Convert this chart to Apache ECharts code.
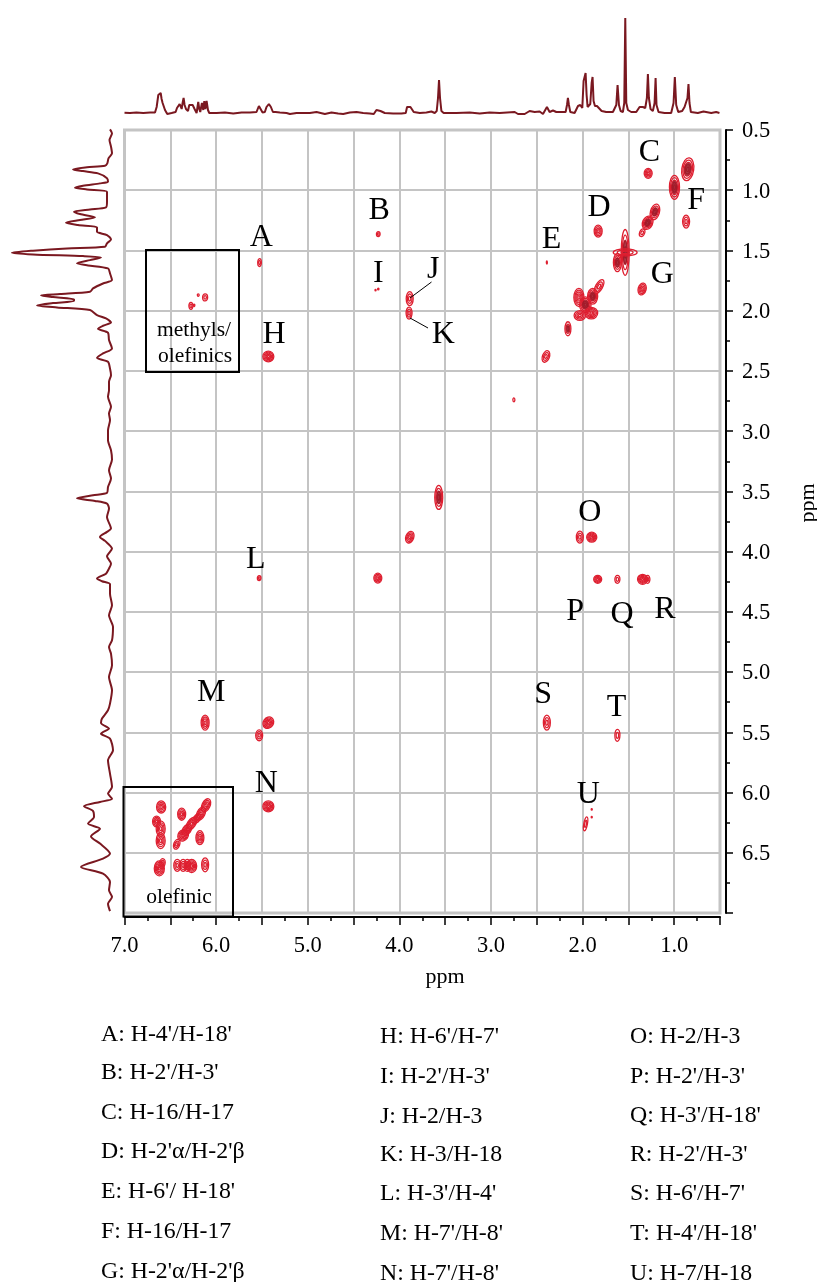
<!DOCTYPE html>
<html>
<head>
<meta charset="utf-8">
<style>html,body{margin:0;padding:0;background:#fff}#c{width:817px;height:1282px}</style>
<script src="https://cdn.jsdelivr.net/npm/echarts@6/dist/echarts.min.js"></script>
</head>
<body>
<div id="c"></div>
<script>
// 1H projection along F2 (top): chemical shift, intensity
const topPpm = [7.0,6.94,6.87,6.795,6.72,6.667,6.649,6.631,6.62,6.605,6.595,6.584,6.569,6.558,6.533,6.486,6.442,6.427,6.413,6.398,6.387,6.376,6.366,6.355,6.344,6.329,6.307,6.293,6.275,6.256,6.235,6.213,6.195,6.184,6.173,6.155,6.14,6.129,6.118,6.104,6.089,6.075,5.995,5.904,5.813,5.722,5.631,5.559,5.533,5.515,5.493,5.468,5.45,5.424,5.402,5.38,5.351,5.304,5.231,5.195,5.122,5.05,4.977,4.904,4.813,4.741,4.668,4.613,4.541,4.468,4.395,4.323,4.279,4.25,4.232,4.206,4.159,4.068,3.977,3.93,3.916,3.897,3.879,3.865,3.843,3.777,3.705,3.65,3.614,3.592,3.578,3.567,3.556,3.541,3.516,3.377,3.232,3.123,3.014,2.905,2.741,2.705,2.632,2.578,2.523,2.469,2.432,2.389,2.36,2.323,2.287,2.232,2.185,2.17,2.16,2.149,2.134,2.087,2.05,2.025,2.003,1.989,1.978,1.967,1.956,1.945,1.93,1.916,1.901,1.891,1.88,1.865,1.843,1.822,1.792,1.742,1.669,1.632,1.618,1.603,1.585,1.56,1.545,1.534,1.523,1.505,1.469,1.414,1.378,1.342,1.316,1.298,1.287,1.276,1.258,1.233,1.214,1.203,1.193,1.171,1.105,1.033,1.007,0.993,0.978,0.956,0.913,0.887,0.869,0.855,0.844,0.833,0.818,0.742,0.68,0.596,0.542,0.506];
const topIntensity = [0.3,0,0.5,0,0.5,0.5,6,18,16,20,14,10,9,3,-1,0,1,5,4,9,11,4,10,15,8,4,2,8,7,8,4,0,11,4,1,10,3,12,4,12,3,0,0,0.5,-0.5,0.5,0.5,1,7,5,0.5,1,6,9,6,1,1,0.5,0,-1,0,0,0,1,-1,0.5,-0.5,-1,0.5,1,0,-0.5,-1,3,5,2,0,-0.5,-0.5,0,6,7,6,7,1,0,0.5,1.5,0,2,15,33,15,2,0,0,0.5,-0.5,0.5,0,1,-1,-1,2,1,1.5,-1,6,1,2.5,1,1,1,8,15,8,1,0,7,8,5,32,36,40,18,6,6,9,30,36,12,7,7,7,2,1,1,8,28,8,2,1,10,95,10,3,1,1,6,6,5,15,39,15,4,2,10,35,8,1,0,0,10,36,8,1,2,6,8,15,29,10,1,0,1.5,0,1,0];

// 1H projection along F1 (left): chemical shift, intensity
const leftPpm = [0.495,0.528,0.583,0.638,0.694,0.735,0.777,0.796,0.81,0.827,0.841,0.86,0.9,0.929,0.943,0.962,0.979,0.993,1.012,1.054,1.095,1.142,1.159,1.178,1.198,1.225,1.248,1.27,1.289,1.308,1.345,1.372,1.408,1.441,1.469,1.483,1.502,1.519,1.533,1.547,1.558,1.58,1.607,1.624,1.649,1.69,1.746,1.774,1.815,1.843,1.862,1.873,1.887,1.906,1.92,1.937,1.956,1.973,1.995,2.037,2.064,2.098,2.125,2.15,2.183,2.244,2.313,2.355,2.391,2.424,2.48,2.535,2.59,2.66,2.715,2.798,2.853,2.909,2.992,3.075,3.158,3.236,3.324,3.393,3.463,3.513,3.532,3.557,3.579,3.601,3.643,3.712,3.809,3.836,3.878,3.911,3.975,4.039,4.1,4.141,4.183,4.224,4.246,4.271,4.349,4.445,4.529,4.625,4.736,4.792,4.847,4.944,5.041,5.151,5.262,5.317,5.386,5.422,5.469,5.511,5.552,5.649,5.732,5.843,5.954,6.009,6.051,6.078,6.114,6.153,6.203,6.258,6.3,6.364,6.424,6.507,6.549,6.618,6.674,6.743,6.812,6.867,6.923,6.984];
const leftIntensity = [0,-2,0.5,-1,-2,1.5,2.7,5,23,37,27,12,3,2,10,27,35,23,3,3,3,4,20,36,30,15,30,44,32,13,13,3,-1,3,5,43,77,98,77,27,9,20,33,22,2,0,-2,7,17,20,50,69,57,36,36,57,73,53,20,13,4,-1,7,12,2,1,-2,7,13,2,0,-1,1,1,2,-1,1,0,2,2,-1,-2,1,-1,2,3,17,33,15,3,1,3,-1,3,10,5,-2,3,-1,1,4,13,8,0,0,-2,1,-3,-2,1,-1,-2,1,-2,0,2,8,9,1,9,0,-3,2,0,-2,2,-2,10,26,17,16,22,10,19,10,0,7,29,7,0,1,-2,2,0];

// 2D cross-peaks: centre on F2 and F1 (ppm), extent on F2 and F1 (ppm), tilt (deg), strong core (0/1)
const peakF2 = [0.852,0.997,1.284,0.87,1.21,1.29,1.35,1.83,1.535,1.535,1.62,1.35,2.39,1.82,1.89,2.04,1.97,1.905,2.03,2.16,2.40,2.75,
  5.526,4.23,4.23,4.26,3.887,3.894,5.43,6.12,6.195,6.275,6.24,
  3.57,3.886,4.235,2.03,1.90,1.835,1.62,1.345,1.29,5.53,6.12,5.53,5.43,5.43,2.39,1.62,1.967,1.90,1.90,
  6.60,6.376,6.65,6.605,6.605,6.11,6.166,6.21,6.27,6.32,6.36,6.43,6.177,6.62,6.59,6.424,6.36,6.315,6.267,6.12];
const peakF1 = [0.826,0.976,0.86,1.26,1.18,1.27,1.353,1.34,1.516,1.516,1.60,1.82,1.60,1.80,1.88,1.89,1.95,2.02,2.04,2.15,2.38,2.74,
  1.60,1.364,1.82,1.83,1.90,2.02,2.38,1.89,1.87,1.96,1.955,
  3.55,3.88,4.22,3.88,3.88,4.23,4.23,4.23,4.23,4.22,5.42,5.525,5.42,6.115,5.42,5.525,6.26,6.14,6.205,
  6.12,6.18,6.24,6.30,6.40,6.106,6.175,6.215,6.26,6.31,6.355,6.43,6.375,6.63,6.59,6.605,6.605,6.605,6.61,6.60];
const peakSpanF2 = [0.13,0.11,0.087,0.076,0.098,0.11,0.055,0.087,0.087,0.26,0.087,0.087,0.011,0.075,0.11,0.11,0.125,0.14,0.125,0.065,0.076,0.022,
  0.04,0.04,0.015,0.012,0.076,0.065,0.12,0.055,0.02,0.044,0.015,
  0.087,0.087,0.087,0.076,0.11,0.087,0.055,0.11,0.05,0.04,0.087,0.076,0.11,0.12,0.076,0.055,0.04,0.012,0.012,
  0.1,0.087,0.087,0.098,0.098,0.087,0.087,0.07,0.087,0.09,0.11,0.065,0.087,0.11,0.065,0.076,0.076,0.07,0.11,0.076];
const peakSpanF1 = [0.19,0.2,0.083,0.108,0.133,0.116,0.066,0.1,0.38,0.058,0.15,0.1,0.025,0.13,0.13,0.15,0.13,0.095,0.08,0.116,0.1,0.033,
  0.066,0.042,0.015,0.012,0.116,0.1,0.09,0.058,0.02,0.058,0.02,
  0.2,0.1,0.083,0.1,0.083,0.066,0.066,0.083,0.066,0.042,0.125,0.09,0.1,0.09,0.125,0.1,0.116,0.012,0.012,
  0.1,0.1,0.09,0.13,0.13,0.116,0.116,0.09,0.125,0.1,0.1,0.083,0.116,0.125,0.083,0.1,0.1,0.1,0.108,0.116];
const peakTilt = [8,0,0,0,15,25,20,0,0,0,0,15,0,30,0,0,0,0,0,0,20,0,
  0,0,0,0,0,0,0,0,0,0,0,
  0,20,0,0,0,0,0,0,0,0,0,0,35,0,0,0,10,0,0,
  0,0,0,0,0,25,25,35,35,35,35,20,0,0,15,0,0,0,0,0];
const peakCore = [1,1,0,0,1,1,0,0,1,0,1,0,0,0,1,0,1,0,0,1,0,0,
  0,0,0,0,0,0,0,0,0,0,0,
  1,0,0,0,0,0,0,0,0,0,0,0,0,0,0,0,0,0,0,
  0,0,0,0,0,0,0,0,0,0,0,0,0,0,0,0,0,0,0,0];

// Tick labels, annotation letters and assignment legend
const xTickLabels = ['7.0','6.0','5.0','4.0','3.0','2.0','1.0'];
const yTickLabels = ['0.5','1.0','1.5','2.0','2.5','3.0','3.5','4.0','4.5','5.0','5.5','6.0','6.5'];
const peakLetters = ['A','B','C','D','E','F','G','H','I','J','K','L','M','N','O','P','Q','R','S','T','U'];
const letterF2 = [5.507,4.22,1.27,1.82,2.34,0.76,1.13,5.367,4.23,3.63,3.52,5.567,6.053,5.453,1.92,2.08,1.57,1.10,2.43,1.63,1.937];
const letterF1 = [1.397,1.167,0.69,1.147,1.407,1.087,1.697,2.195,1.692,1.66,2.197,4.065,5.167,5.925,3.672,4.50,4.522,4.484,5.187,5.298,6.018];
const assignCol1 = ["A: H-4'/H-18'","B: H-2'/H-3'","C: H-16/H-17","D: H-2'α/H-2'β","E: H-6'/ H-18'","F: H-16/H-17","G: H-2'α/H-2'β"];
const assignCol2 = ["H: H-6'/H-7'","I: H-2'/H-3'","J: H-2/H-3","K: H-3/H-18","L: H-3'/H-4'","M: H-7'/H-8'","N: H-7'/H-8'"];
const assignCol3 = ["O: H-2/H-3","P: H-2'/H-3'","Q: H-3'/H-18'","R: H-2'/H-3'","S: H-6'/H-7'","T: H-4'/H-18'","U: H-7/H-18"];

const FONT = '"Liberation Serif","Times New Roman",serif';
const GRID_GREY = '#c4c4c4', TRACE = '#7a1820', RED = '#de1f30', CORE = '#9a1a28';

const peaks = peakF2.map((v, i) => [v, peakF1[i], peakSpanF2[i], peakSpanF1[i], peakTilt[i], peakCore[i]]);

function renderPeak(params, api) {
  const c = api.coord([api.value(0), api.value(1)]);
  const unit = api.size([1, 1]);
  const rx = api.value(2) * unit[0] / 2, ry = api.value(3) * unit[1] / 2;
  const rings = Math.max(1, Math.round(Math.min(rx, ry) / 1.1));
  const children = [];
  for (let k = 0; k < rings; k++) {
    const f = 1 - k / rings;
    children.push({ type: 'ellipse', shape: { cx: 0, cy: 0, rx: Math.max(rx * f, 0.5), ry: Math.max(ry * f, 0.5) },
      style: { fill: null, stroke: RED, lineWidth: 1.3 } });
  }
  if (api.value(5)) {
    children.push({ type: 'ellipse', shape: { cx: 0, cy: 0, rx: rx * 0.55, ry: ry * 0.55 },
      style: { fill: CORE, stroke: CORE, lineWidth: 0.5, opacity: 0.85 } });
  }
  return { type: 'group', x: c[0], y: c[1], rotation: -api.value(4) * Math.PI / 180, children };
}

function text(str, x, y, size, extra) {
  return Object.assign({ type: 'text', x, y, silent: true, style: { text: str, fontFamily: FONT, fontSize: size, fill: '#000', textAlign: 'center', textVerticalAlign: 'middle' } }, extra || {});
}
function rows(col, x, ys) {
  return col.map((s, i) => text(s, x, ys[i], 23.8, null)).map(e => { e.style.textAlign = 'left'; return e; });
}

const graphics = [
  { type: 'rect', silent: true, shape: { x: 146, y: 250, width: 93, height: 122 }, style: { fill: null, stroke: '#000', lineWidth: 2 } },
  { type: 'rect', silent: true, shape: { x: 123.5, y: 787, width: 109.5, height: 129.5 }, style: { fill: null, stroke: '#000', lineWidth: 2 } },
  { type: 'line', silent: true, shape: { x1: 431.5, y1: 282, x2: 410, y2: 298 }, style: { stroke: '#000', lineWidth: 1 } },
  { type: 'line', silent: true, shape: { x1: 410, y1: 318, x2: 428, y2: 328 }, style: { stroke: '#000', lineWidth: 1 } },
  text('methyls/', 194, 330, 21.5), text('olefinics', 195, 356, 21.5), text('olefinic', 179, 897, 21.5),
  text('ppm', 445, 977, 22),
  text('ppm', 808, 503, 22, { rotation: Math.PI / 2 }),
  ...rows(assignCol1, 101, [1035, 1073, 1113, 1152, 1192, 1232, 1272]),
  ...rows(assignCol2, 380, [1037, 1077, 1117, 1155, 1194, 1234, 1274]),
  ...rows(assignCol3, 630, [1037, 1077, 1116, 1155, 1194, 1234, 1274])
].map(e => Object.assign({ z: 20 }, e));

const chart = echarts.init(document.getElementById('c'), null, { renderer: 'canvas' });
chart.setOption({
  animation: false,
  backgroundColor: '#fff',
  textStyle: { fontFamily: FONT },
  grid: [
    { left: 124.5, top: 130, width: 595.5, height: 783, show: true, borderColor: GRID_GREY, borderWidth: 3, backgroundColor: 'transparent' },
    { left: 124.5, top: 18, width: 595.5, height: 97, show: false },
    { left: 12, top: 130, width: 103, height: 783, show: false }
  ],
  xAxis: [
    { gridIndex: 0, type: 'value', inverse: true, min: 0.5, max: 7, interval: 0.5, position: 'bottom', offset: 4,
      axisLine: { show: true, onZero: false, lineStyle: { color: '#000', width: 2 } },
      axisTick: { show: true, length: 8, inside: false, lineStyle: { color: '#000', width: 1.5 } },
      minorTick: { show: true, splitNumber: 2, length: 4, lineStyle: { color: '#000', width: 1.5 } },
      axisLabel: { color: '#000', fontFamily: FONT, fontSize: 22.5, margin: 18, showMinLabel: true, showMaxLabel: true,
        formatter: v => xTickLabels.includes(v.toFixed(1)) ? v.toFixed(1) : '' },
      splitLine: { show: true, lineStyle: { color: GRID_GREY, width: 2 } } },
    { gridIndex: 1, type: 'value', inverse: true, min: 0.5, max: 7, show: false },
    { gridIndex: 2, type: 'value', inverse: true, min: -5, max: 98, show: false }
  ],
  yAxis: [
    { gridIndex: 0, type: 'value', inverse: true, min: 0.5, max: 7, interval: 0.5, position: 'right', offset: 6,
      axisLine: { show: true, onZero: false, lineStyle: { color: '#000', width: 2 } },
      axisTick: { show: true, length: 7, lineStyle: { color: '#000', width: 1.5 } },
      minorTick: { show: true, splitNumber: 2, length: 4, lineStyle: { color: '#000', width: 1.5 } },
      axisLabel: { color: '#000', fontFamily: FONT, fontSize: 22.5, margin: 16, verticalAlign: 'top', padding: [-10, 0, 0, 0],
        formatter: v => yTickLabels.includes(v.toFixed(1)) ? v.toFixed(1) : '' },
      splitLine: { show: true, lineStyle: { color: GRID_GREY, width: 2 } } },
    { gridIndex: 1, type: 'value', min: -2, max: 95, show: false },
    { gridIndex: 2, type: 'value', inverse: true, min: 0.5, max: 7, show: false }
  ],
  series: [
    { type: 'custom', name: 'cross-peaks', xAxisIndex: 0, yAxisIndex: 0, renderItem: renderPeak, data: peaks, z: 5, clip: true,
      encode: { x: 0, y: 1 } },
    { type: 'line', name: 'F2 projection', xAxisIndex: 1, yAxisIndex: 1, showSymbol: false, symbol: 'none', clip: false,
      lineStyle: { color: TRACE, width: 2 }, data: topPpm.map((v, i) => [v, topIntensity[i]]) },
    { type: 'line', name: 'F1 projection', xAxisIndex: 2, yAxisIndex: 2, showSymbol: false, symbol: 'none', clip: false, smooth: 0.25,
      lineStyle: { color: TRACE, width: 2 }, data: leftPpm.map((v, i) => [leftIntensity[i], v]) },
    { type: 'scatter', name: 'letters', xAxisIndex: 0, yAxisIndex: 0, symbolSize: 0, z: 10, silent: true,
      itemStyle: { opacity: 1 },
      data: peakLetters.map((s, i) => ({ value: [letterF2[i], letterF1[i]], name: s })),
      label: { show: true, position: 'inside', formatter: p => p.name, fontFamily: FONT, fontSize: 32, color: '#000', opacity: 1 } }
  ],
  graphic: { elements: graphics }
});
</script>
</body>
</html>
